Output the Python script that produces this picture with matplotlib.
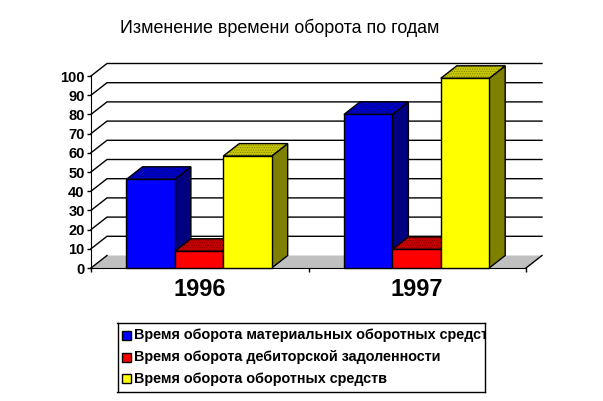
import matplotlib
matplotlib.use('Agg')
import matplotlib.pyplot as plt
from matplotlib.patches import Polygon, Rectangle

plt.rcParams['font.family'] = ['Liberation Sans', 'DejaVu Sans']
plt.rcParams['hatch.linewidth'] = 0.5

title = 'Изменение времени оборота по годам'
years = ['1996', '1997']
names = ['Время оборота материальных оборотных средств',
         'Время оборота дебиторской задоленности',
         'Время оборота оборотных средств']
material = [46.2, 80.0]
debtors = [8.7, 9.7]
turnover = [58.3, 98.8]
series = [material, debtors, turnover]
front = ['#0000ff', '#ff0000', '#ffff00']
top = ['#0000c8', '#c80000', '#c8c800']
dots = ['#000080', '#800000', '#808000']
side = ['#000080', '#800000', '#808000']

W, H = 603, 401
fig = plt.figure(figsize=(W / 100, H / 100), dpi=100)
ax = fig.add_axes([91 / W, 1 - 268 / H, 435 / W, 192 / H])
ax.set_xlim(0, 2)
ax.set_ylim(0, 100)

# depth of the fake 3d box, in data units
dx = 16 / 217.5
dy = 12.5 / 1.92
bw = 48.4 / 217.5

ax.add_patch(Polygon([(0, 0), (2, 0), (2 + dx, dy), (dx, dy)], closed=True,
                     fc='#c0c0c0', ec='none', clip_on=False, zorder=1))
ax.plot([0, dx], [0, dy], color='k', lw=1, clip_on=False, zorder=1.5)
ax.plot([2, 2 + dx], [0, dy], color='k', lw=1, clip_on=False, zorder=1.5)
for v in range(10, 101, 10):
    ax.plot([0, dx, 2 + dx], [v, v + dy, v + dy], color='k', lw=1,
            clip_on=False, zorder=1.5, solid_joinstyle='miter')

z = 2
for g in range(len(years)):
    for s in range(len(series)):
        x0 = g + 0.497 + (s - 1.5) * bw
        x1 = x0 + bw
        v = series[s][g]
        ax.add_patch(Polygon([(x1, 0), (x1 + dx, dy), (x1 + dx, v + dy), (x1, v)], closed=True,
                             fc=side[s], ec='k', lw=1, clip_on=False, zorder=z))
        ax.add_patch(Polygon([(x0, v), (x1, v), (x1 + dx, v + dy), (x0 + dx, v + dy)], closed=True,
                             fc=top[s], ec=dots[s], hatch='.......', lw=0, clip_on=False, zorder=z))
        ax.add_patch(Polygon([(x0, v), (x1, v), (x1 + dx, v + dy), (x0 + dx, v + dy)], closed=True,
                             fc='none', ec='k', lw=1, clip_on=False, zorder=z))
        ax.add_patch(Rectangle((x0, 0), bw, v, fc=front[s], ec='k', lw=1, clip_on=False, zorder=z))
        z += 1

for sp in ['top', 'right']:
    ax.spines[sp].set_visible(False)
ax.set_yticks(range(0, 101, 10))
ax.set_xticks([0, 1, 2])
ax.set_xticks([0.5, 1.5], labels=years, minor=True)
ax.set_xticklabels([])
ax.tick_params(axis='y', length=3, width=1, pad=1.5, labelsize=10.5)
ax.tick_params(axis='x', which='major', length=3, width=1)
ax.tick_params(axis='x', which='minor', length=0, pad=7, labelsize=17)
for t in ax.get_yticklabels() + ax.get_xticklabels(minor=True):
    t.set_fontweight('bold')

fig.text(120 / W, 1 - 28 / H, title, fontsize=12.85, va='center', ha='left')

# legend box, last name is cut by the frame like in the original
lg = fig.add_axes([117.5 / W, 1 - 392 / H, 368 / W, 69 / H])
lg.set_xlim(117.5, 485.5)
lg.set_ylim(392, 323)
lg.set_xticks([])
lg.set_yticks([])
for sp in lg.spines.values():
    sp.set_linewidth(1)
for i, n in enumerate(names):
    yc = 335.5 + i * 21.5
    lg.add_patch(Rectangle((122, yc - 4.5), 9, 9, fc=front[i], ec='k', lw=1))
    lg.text(134, yc, n, fontsize=10.4, fontweight='bold', va='center', ha='left', clip_on=True)

fig.savefig('out.png', dpi=100)
